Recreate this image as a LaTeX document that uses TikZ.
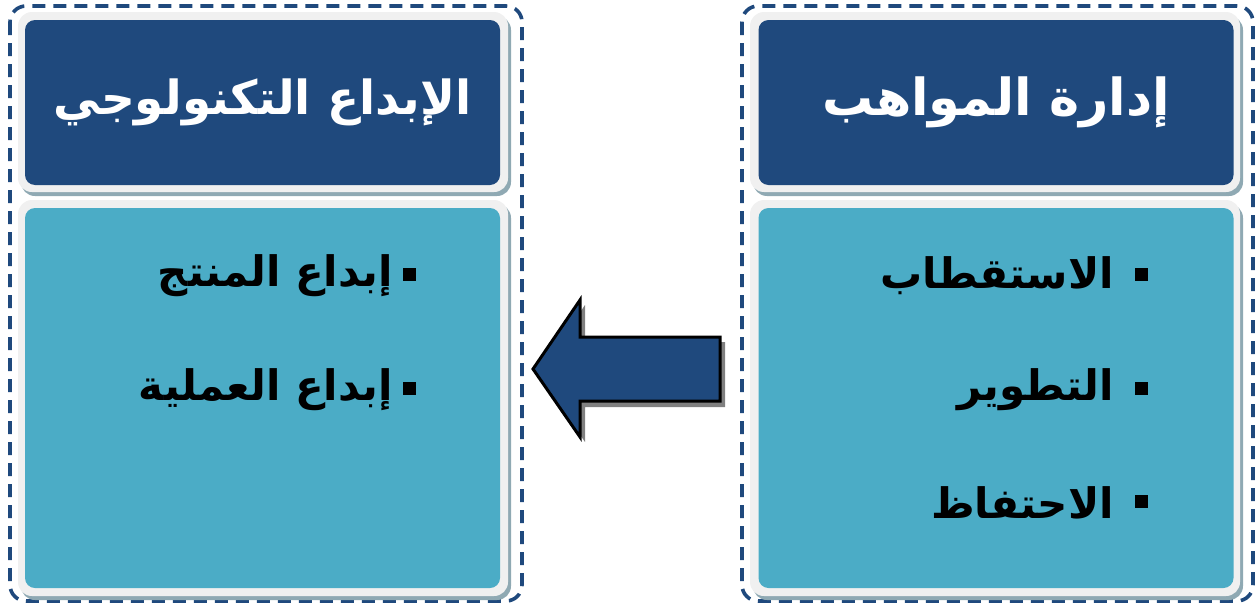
\documentclass[tikz,border=0pt]{standalone}
\usepackage{fontspec}
\TeXXeTstate=1
\newfontfamily\arabicfont[Script=Arabic]{DejaVu Sans}
\definecolor{dblue}{HTML}{1F497D}
\definecolor{teal}{HTML}{4BACC6}
\definecolor{rimgray}{HTML}{F0F0F0}
\definecolor{shadegray}{HTML}{8FA9B3}
\tikzset{
  group/.style={draw=dblue, line width=3.6pt, dash pattern=on 13pt off 8pt, rounded corners=16pt},
  rim/.style={fill=rimgray, rounded corners=14pt},
  shade/.style={fill=shadegray, rounded corners=14pt},
  headbox/.style={fill=dblue, rounded corners=10pt, minimum width=475pt, minimum height=165pt, inner sep=0pt,
     text=white, font=\arabicfont\bfseries\fontsize{51}{56}\selectfont},
  bodybox/.style={fill=teal, rounded corners=10pt, minimum width=475pt, minimum height=380pt, inner sep=0pt},
  item/.style={anchor=east, inner sep=0pt, font=\arabicfont\bfseries\fontsize{42}{46}\selectfont},
  bul/.style={fill=black, minimum size=13pt, inner sep=0pt}
}
\begin{document}
\begin{tikzpicture}[x=1pt,y=-1pt]
\useasboundingbox (0,0) rectangle (1258,605);
% dashed groups
\draw[group] (10,6) rectangle (522,601);
\draw[group] (742,6) rectangle (1253,601);
% rims and shadows
\foreach \xo in {0,732}{
  \fill[shade] (21+\xo,16) rectangle (511+\xo,196);
  \fill[rim] (18+\xo,12) rectangle (508+\xo,192);
  \fill[shade] (21+\xo,204) rectangle (511+\xo,600);
  \fill[rim] (18+\xo,200) rectangle (508+\xo,596);
}
% header boxes
\node[headbox, font=\arabicfont\bfseries\fontsize{47}{52}\selectfont] (lh) at (262.5,102.5) {\beginR الإبداع التكنولوجي\endR};
\node[headbox] (rh) at (996,102.5) {\beginR إدارة المواهب\endR};
% body boxes
\node[bodybox] (lb) at (262.5,398) {};
\node[bodybox] (rb) at (996,398) {};
% right items
\node[bul] (rb1) at (1141,274) {};
\node[item] (r1) at (1114,276) {\beginR الاستقطاب\endR};
\node[bul] (rb2) at (1141,388) {};
\node[item] (r2) at (1114,390) {\beginR التطوير\endR};
\node[bul] (rb3) at (1141,501) {};
\node[item] (r3) at (1114,503) {\beginR الاحتفاظ\endR};
% left items
\node[bul] (lb1) at (409,274) {};
\node[item] (l1) at (393,276) {\beginR إبداع المنتج\endR};
\node[bul] (lb2) at (409,388) {};
\node[item] (l2) at (393,390) {\beginR إبداع العملية\endR};
% arrow
\coordinate (tip) at (533,369);
\fill[gray] ([shift={(5,5)}]tip) -- (585,305) -- (585,342) -- (725,342) -- (725,407) -- (585,407) -- (585,442) -- cycle;
\draw[fill=dblue, line width=3pt, line join=miter] (tip) -- (580,300) -- (580,337) -- (720,337) -- (720,401) -- (580,401) -- (580,437) -- cycle;
\end{tikzpicture}
\end{document}
